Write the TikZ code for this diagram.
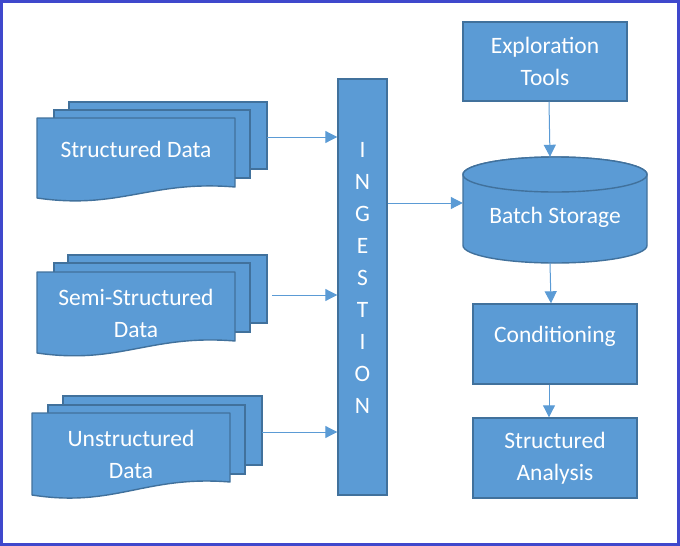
\documentclass[tikz,border=0pt]{standalone}
\usepackage{fontspec}
\setmainfont{Carlito}
\usetikzlibrary{arrows.meta}
\definecolor{fillblue}{HTML}{5B9BD5}
\definecolor{strokeblue}{HTML}{41719C}
\definecolor{framecol}{HTML}{3F48CC}
\tikzset{
  pagebox/.style={draw=strokeblue, fill=fillblue, line width=1.4pt, inner sep=0pt},
  boxnode/.style={pagebox, rectangle, align=center, text=white, font=\fontsize{23.5}{32}\selectfont},
  lbl/.style={text=white, align=center, inner sep=0pt, font=\fontsize{23.5}{32}\selectfont},
  conn/.style={draw=fillblue, line width=1pt, -{Triangle[length=12pt,width=12pt]}},
  docpath/.style={draw=strokeblue, fill=fillblue, line width=1.4pt, line join=round},
}
\begin{document}
\begin{tikzpicture}[x=1pt,y=-1pt]
\useasboundingbox (0,0) rectangle (680,546);
\draw[framecol, line width=3pt] (1.5,1.5) rectangle (678.5,544.5);

% Structured Data stack
\node[pagebox, minimum width=198pt, minimum height=67pt] (sdback) at (168,135.5) {};
\node[pagebox, minimum width=196pt, minimum height=68pt] (sdmid) at (152,144) {};
\draw[docpath] (37,118) -- (235,118) -- (235,187) .. controls (150,180) and (120,210) .. (37,198) -- cycle;
\node[lbl] (sd) at (136,149) {Structured Data};
\coordinate (sdout) at (267,137);

% Semi-Structured Data stack
\node[pagebox, minimum width=199pt, minimum height=68pt] (ssback) at (167.5,289) {};
\node[pagebox, minimum width=196pt, minimum height=69pt] (ssmid) at (152,297.5) {};
\draw[docpath] (37,272) -- (235,272) -- (235,341) .. controls (150,334) and (120,365) .. (37,353) -- cycle;
\node[lbl] (ss) at (136,313) {Semi-Structured\\Data};
\coordinate (ssout) at (272,295);

% Unstructured Data stack
\node[pagebox, minimum width=199pt, minimum height=69pt] (usback) at (162.5,430.5) {};
\node[pagebox, minimum width=197pt, minimum height=69pt] (usmid) at (146.5,439.5) {};
\draw[docpath] (32,413) -- (230,413) -- (230,482) .. controls (145,475) and (115,508) .. (32,495) -- cycle;
\node[lbl] (us) at (131,454.5) {Unstructured\\Data};
\coordinate (usout) at (262,432);

% Ingestion
\node[pagebox, minimum width=49pt, minimum height=416pt] (ing) at (362.5,287) {};
\node[lbl, font=\fontsize{23.5}{31.9}\selectfont] (ingtext) at (362.5,278) {I\\N\\G\\E\\S\\T\\I\\O\\N};

% Exploration Tools
\node[boxnode, minimum width=164pt, minimum height=79pt] (expl) at (545,61.5) {Exploration\\Tools};

% Batch Storage cylinder
\node[minimum width=184pt, minimum height=106pt, inner sep=0pt] (bs) at (555,210) {};
\draw[docpath] (463,174.5) -- (463,245.5) arc[start angle=180, end angle=0, x radius=92, y radius=17.5] -- (647,174.5) arc[start angle=0, end angle=-180, x radius=92, y radius=17.5];
\draw[docpath] (555,174.5) ellipse[x radius=92, y radius=17.5];
\node[lbl] (bstext) at (555,217) {Batch Storage};

% Conditioning
\node[pagebox, minimum width=164pt, minimum height=80pt] (cond) at (555,344) {};
\node[lbl] (condtext) at (555,336) {Conditioning};

% Structured Analysis
\node[boxnode, minimum width=164pt, minimum height=80pt] (sa) at (555,458) {Structured\\Analysis};

% Connectors
\draw[conn] (sdout) -- (ing.west |- sdout);
\draw[conn] (ssout) -- (ing.west |- ssout);
\draw[conn] (usout) -- (ing.west |- usout);
\draw[conn] (ing.east |- 0,203) -- (bs.west |- 0,203);
\draw[conn] (expl.south -| 549,0) -- (bs.north -| 550,0);
\draw[conn] (bs.south -| 550,0) -- (cond.north -| 551,0);
\draw[conn] (cond.south -| 549,0) -- (sa.north -| 549,0);
\end{tikzpicture}
\end{document}
